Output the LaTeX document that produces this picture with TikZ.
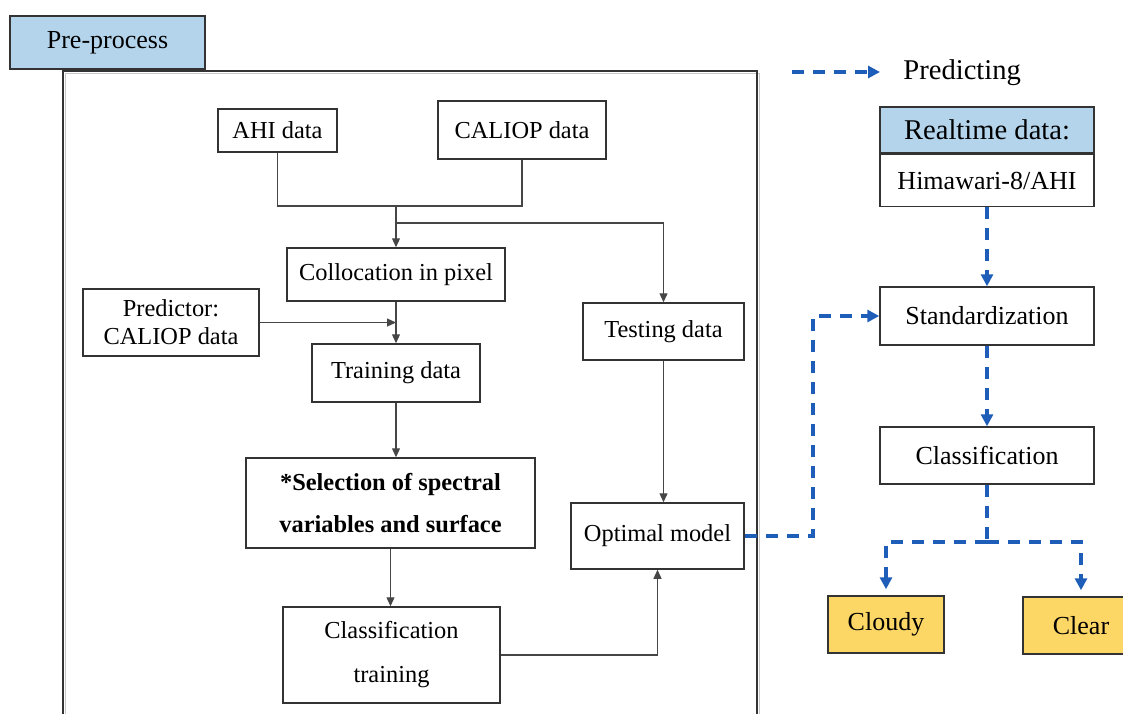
\documentclass[tikz,border=0pt]{standalone}
\usepackage{fontspec}
\setmainfont{Liberation Serif}
\usetikzlibrary{arrows.meta,positioning}
\definecolor{headblue}{RGB}{180,212,236}
\definecolor{resgold}{RGB}{253,215,102}
\definecolor{predblue}{RGB}{30,94,184}
\definecolor{linegray}{RGB}{70,70,70}

\begin{document}
\begin{tikzpicture}[x=0.5pt,y=-0.5pt,
    box/.style={draw=black!80,line width=0.75pt,align=center,inner sep=0pt,font=\fontsize{12.2}{14}\selectfont},
    rbox/.style={box,font=\fontsize{13}{16}\selectfont,minimum width=107pt},
    link/.style={draw=linegray,line width=0.6pt},
    flow/.style={link,-{Triangle[length=4.5pt,width=4pt]}},
    pred/.style={draw=predblue,line width=1.75pt,dash pattern=on 6pt off 4.5pt,-{Triangle[length=6pt,width=6pt]}}]
  \useasboundingbox (0,0) rectangle (1123,713);
  \clip (0,0) rectangle (1123,713);

  \node[box,fill=headblue,minimum width=97.5pt,minimum height=26.5pt,font=\fontsize{13}{16}\selectfont] (pre) at (107.5,42.5) {\raisebox{-1.5pt}{Pre-process}};
  \draw[black!22,line width=0.75pt] (65.5,73.5) rectangle (759.5,740);
  \draw[black!80,line width=0.75pt] (63,71) rectangle (757,740);

  \node[box,minimum width=59.5pt,minimum height=21.5pt] (ahi) at (277.5,130.5) {AHI data};
  \node[box,minimum width=84pt,minimum height=29pt] (caliop) at (522,130) {CALIOP data};
  \node[box,minimum width=109pt,minimum height=26.5pt] (colloc) at (396,274.5) {Collocation in pixel};
  \node[box,minimum width=88pt,minimum height=33.5pt] (predictor) at (171,322.5) {Predictor:\\CALIOP data};
  \node[box,minimum width=84pt,minimum height=29pt] (train) at (396,373) {Training data};
  \node[box,minimum width=144.5pt,minimum height=45pt,font=\fontsize{12.2}{21}\bfseries] (select) at (390.5,503) {*Selection of spectral\\variables and surface};
  \node[box,minimum width=108.5pt,minimum height=48pt,font=\fontsize{12.2}{22}\selectfont] (ctrain) at (391.5,655) {Classification\\training};
  \node[box,minimum width=80.5pt,minimum height=28.5pt] (test) at (663.5,331.5) {Testing data};
  \node[box,minimum width=86.5pt,minimum height=33pt] (optimal) at (657.5,536) {Optimal model};

  \coordinate (joint) at (396,206);
  \coordinate (split) at (396,223);
  \draw[link] (ahi.south) |- (joint) -| (caliop.south);
  \draw[flow] (joint) -- (colloc.north);
  \draw[flow] (split) -| (test.north);
  \draw[flow] (colloc.south) -- (train.north);
  \draw[flow] (predictor.east) -- (predictor.east -| colloc.south);
  \draw[flow] (train.south) -- (train.south |- select.north);
  \draw[flow] (select.south) -- (select.south |- ctrain.north);
  \draw[flow] (test.south) -- (test.south |- optimal.north);
  \draw[flow] (ctrain.east) -| (optimal.south);

  \coordinate (keystart) at (792,72);
  \coordinate (keyend) at (880,72);
  \draw[pred] (keystart) -- (keyend);
  \node[anchor=west,inner sep=0pt,font=\fontsize{14.3}{17}\selectfont] (keytext) at (903,73) {Predicting};

  \node[rbox,fill=headblue,minimum height=23pt,font=\fontsize{14.3}{17}\selectfont] (realtime) at (987,130) {Realtime data:};
  \node[rbox,minimum height=26pt,below=0pt of realtime] (himawari) {Himawari-8/AHI};
  \node[rbox,minimum height=29pt] (stand) at (987,316) {Standardization};
  \node[rbox,minimum height=28.5pt] (classify) at (987,455.5) {Classification};
  \node[rbox,fill=resgold,minimum width=58pt,minimum height=28.5pt] (cloudy) at (886,624.5) {Cloudy};
  \node[rbox,fill=resgold,minimum width=58pt,minimum height=28.5pt] (clear) at (1081,625.5) {Clear};

  \coordinate (detour) at (813,536);
  \coordinate (fork) at (987,542);
  \draw[pred] (optimal.east) -- (detour) |- (stand.west);
  \draw[pred] (himawari.south) -- (stand.north);
  \draw[pred] (stand.south) -- (classify.north);
  \draw[pred,-] (classify.south) -- (fork);
  \draw[pred,shorten >=3pt] (fork) -| (cloudy.north);
  \draw[pred,shorten >=3pt] (fork) -| (clear.north);
\end{tikzpicture}
\end{document}
